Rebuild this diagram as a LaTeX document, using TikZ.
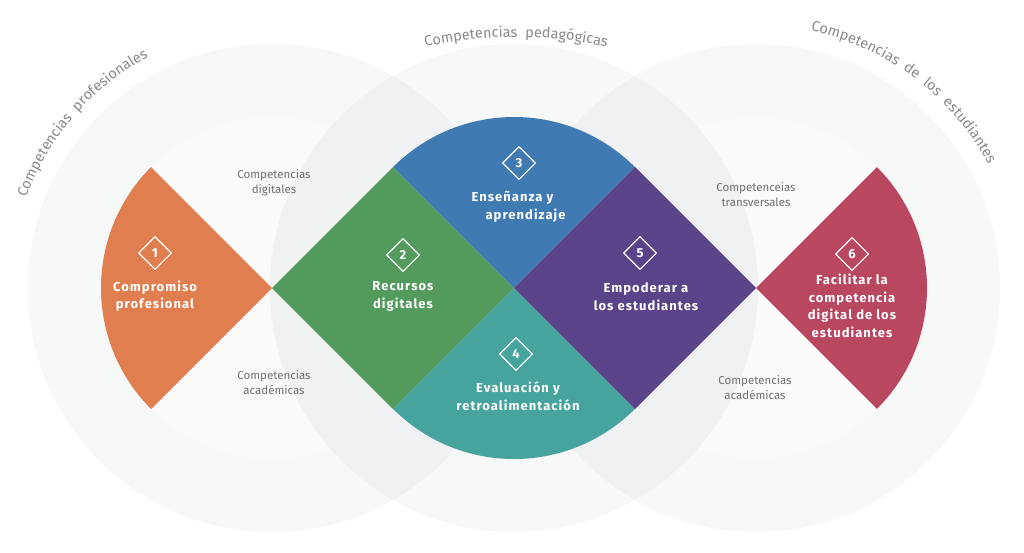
\documentclass[tikz,border=0pt]{standalone}
\usepackage{fontspec}
\setmainfont{Fira Sans}
\newfontfamily\lblfont[LetterSpace=8]{Fira Sans}
\usetikzlibrary{decorations.text,shapes.geometric}
\definecolor{cOrange}{HTML}{E07E4F}
\definecolor{cGreen}{HTML}{539B5C}
\definecolor{cBlue}{HTML}{3F7AB3}
\definecolor{cTeal}{HTML}{46A39D}
\definecolor{cPurple}{HTML}{5A4388}
\definecolor{cRed}{HTML}{BA4760}
\definecolor{ring}{HTML}{F7F8F8}
\definecolor{innerc}{HTML}{FAFAFA}
\definecolor{lens}{HTML}{F0F1F3}
\definecolor{lblgray}{HTML}{707070}
\definecolor{arcgray}{HTML}{8A8A8A}
\newcommand{\arcfont}{\color{arcgray}\fontsize{14.5}{15}\selectfont}
\begin{document}
\begin{tikzpicture}[x=1pt,y=1pt,
  icon/.style={diamond, draw=white, line width=1.1pt, minimum size=33pt, inner sep=0pt,
    text=white, font=\lblfont\bfseries\fontsize{13}{13}\selectfont},
  lbl/.style={text=white, align=center, inner sep=0pt,
    font=\lblfont\bfseries\fontsize{13}{17.5}\selectfont},
  glbl/.style={text=lblgray, align=center, inner sep=0pt,
    font=\fontsize{11.5}{15}\selectfont}]
\useasboundingbox[fill=white] (0,0) rectangle (1024,-552);
\coordinate (L) at (272,-288);
\coordinate (M) at (514,-288);
\coordinate (R) at (756,-288);
\coordinate (T) at (516,-457);
% background circles
\foreach \c in {L,M,R} \fill[ring] (\c) circle[radius=244pt];
\foreach \c in {L,M,R} \fill[innerc] (\c) circle[radius=171pt];
\begin{scope}
  \clip (L) circle[radius=244pt];
  \fill[lens] (M) circle[radius=244pt];
\end{scope}
\begin{scope}
  \clip (M) circle[radius=244pt];
  \fill[lens] (R) circle[radius=244pt];
\end{scope}
% coloured shapes
\fill[cOrange] (L) -- ++(135:171pt) arc[start angle=135,end angle=225,radius=171pt] -- cycle;
\fill[cGreen] (L) -- (393,-167) -- (M) -- (393,-409) -- cycle;
\fill[cBlue] (M) -- ++(45:171pt) arc[start angle=45,end angle=135,radius=171pt] -- cycle;
\fill[cTeal] (M) -- ++(225:171pt) arc[start angle=225,end angle=315,radius=171pt] -- cycle;
\fill[cPurple] (M) -- (635,-167) -- (R) -- (635,-409) -- cycle;
\fill[cRed] (R) -- ++(-45:171pt) arc[start angle=-45,end angle=45,radius=171pt] -- cycle;
% curved titles
\path[decorate, decoration={text along path, text align=center,
  text={|\arcfont|Competencias {\ }profesionales}}]
  ([shift={(172:262pt)}]L) arc[start angle=172, end angle=106, radius=262pt];
\path[decorate, decoration={text along path, text align=center,
  text={|\arcfont|Competencias {\ }pedagógicas}}]
  ([shift={(118:420pt)}]T) arc[start angle=118, end angle=62, radius=420pt];
\path[decorate, decoration={text along path, text align=center,
  text={|\arcfont|Competencias {\ }de {\ }los {\ }estudiantes}}]
  ([shift={(88:263pt)}]R) arc[start angle=88, end angle=18, radius=263pt];
% icons
\node[icon] (i1) at (155,-253) {1};
\node[icon] (i2) at (403,-255) {2};
\node[icon] (i3) at (519,-163) {3};
\node[icon] (i4) at (516,-354) {4};
\node[icon] (i5) at (640,-253) {5};
\node[icon] (i6) at (852,-254) {6};
% labels
\node[lbl] (t1) at (155,-296) {Compromiso\\profesional};
\node[lbl] (t2) at (403,-296.5) {Recursos\\digitales};
\node[lbl] (t3) at (519,-207) {Enseñanza y\hspace*{13pt}\\\hspace*{13pt}aprendizaje};
\node[lbl] (t4) at (518,-396) {Evaluación y\\retroalimentación};
\node[lbl] (t5) at (646,-296.5) {Empoderar a\\los estudiantes};
\node[lbl] (t6) at (852,-306) {Facilitar la\\competencia\\digital de los\\estudiantes};
% grey labels
\node[glbl] (g1) at (274,-182.5) {Competencias\\digitales};
\node[glbl] (g2) at (274,-383) {Competencias\\académicas};
\node[glbl] (g3) at (756,-195) {Competenceias\\transversales};
\node[glbl] (g4) at (755,-388) {Competencias\\académicas};
\end{tikzpicture}
\end{document}
